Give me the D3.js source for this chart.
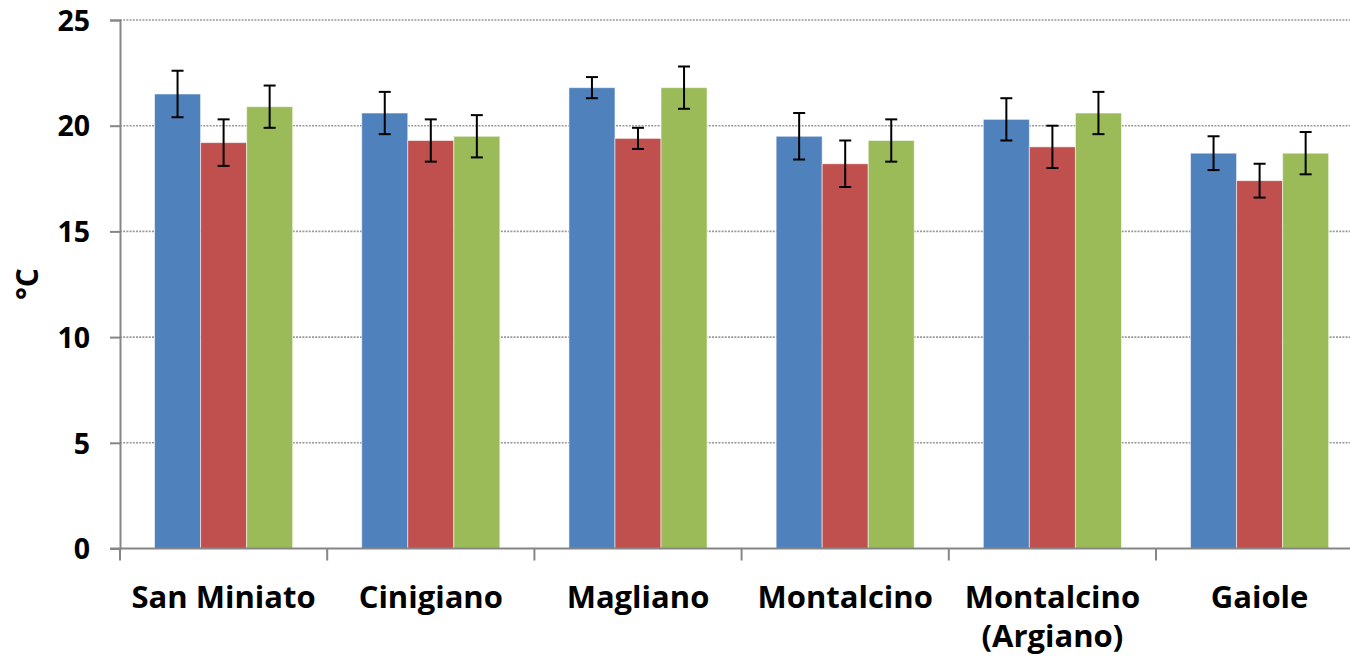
<!DOCTYPE html>
<html>
<head>
<meta charset="utf-8">
<script src="https://cdn.jsdelivr.net/npm/d3@7"></script>
<style>
  html, body { margin: 0; padding: 0; background: #fff; }
  svg { display: block; }
  text { font-family: "Open Sans", Lato, sans-serif; font-weight: 700; fill: #000; }
</style>
</head>
<body>
<svg id="chart" width="1350" height="665"></svg>
<script>
// Sites (category axis)
const sites = ["San Miniato", "Cinigiano", "Magliano", "Montalcino", "Montalcino\n(Argiano)", "Gaiole"];

// Mean temperature per site, one array per series (°C)
const seriesBlue  = [21.5, 20.6, 21.8, 19.5, 20.3, 18.7];
const seriesRed   = [19.2, 19.3, 19.4, 18.2, 19.0, 17.4];
const seriesGreen = [20.9, 19.5, 21.8, 19.3, 20.6, 18.7];

// Error bar half-widths (°C)
const errBlue  = [1.1, 1.0, 0.5, 1.1, 1.0, 0.8];
const errRed   = [1.1, 1.0, 0.5, 1.1, 1.0, 0.8];
const errGreen = [1.0, 1.0, 1.0, 1.0, 1.0, 1.0];

const yTicks = [0, 5, 10, 15, 20, 25];
const yLabel = "°C";

const seriesKeys = ["blue", "red", "green"];
const colors = { blue: "#4F81BD", red: "#C0504D", green: "#9BBB59" };
const values = { blue: seriesBlue, red: seriesRed, green: seriesGreen };
const errors = { blue: errBlue, red: errRed, green: errGreen };

const svg = d3.select("#chart");

const plotLeft = 120, plotBottom = 548.5, plotTop = 20;
const step = 207.2;
const plotRight = plotLeft + step * sites.length;

const y = d3.scaleLinear().domain([0, 25]).range([plotBottom, plotTop]);

const x = d3.scaleBand()
  .domain(sites)
  .range([plotLeft, plotRight])
  .paddingInner(1 / 3)
  .paddingOuter(1 / 6);

const xs = d3.scaleBand().domain(seriesKeys).range([0, x.bandwidth()]).padding(0);

// Dotted horizontal gridlines
svg.append("g")
  .selectAll("line")
  .data(yTicks.filter(t => t > 0))
  .join("line")
  .attr("x1", plotLeft).attr("x2", plotRight)
  .attr("y1", d => y(d)).attr("y2", d => y(d))
  .attr("stroke", "#9a9a9a")
  .attr("stroke-width", 1.6)
  .attr("stroke-dasharray", "2,1.2");

// Bars
const rows = sites.map((s, i) => seriesKeys.map(k => ({ site: s, key: k, v: values[k][i], e: errors[k][i] })));

const groups = svg.append("g")
  .selectAll("g")
  .data(rows)
  .join("g")
  .attr("transform", d => `translate(${x(d[0].site)},0)`);

groups.selectAll("rect")
  .data(d => d)
  .join("rect")
  .attr("x", d => xs(d.key))
  .attr("width", xs.bandwidth())
  .attr("y", d => y(d.v))
  .attr("height", d => y(0) - y(d.v))
  .attr("fill", d => colors[d.key])
  .attr("stroke", "rgba(255,255,255,0.55)")
  .attr("stroke-width", 1);

// Error bars
const eb = groups.selectAll("g.err")
  .data(d => d)
  .join("g")
  .attr("class", "err")
  .attr("transform", d => `translate(${xs(d.key) + xs.bandwidth() / 2},0)`)
  .attr("stroke", "#000")
  .attr("stroke-width", 2);

eb.append("line")
  .attr("x1", 0).attr("x2", 0)
  .attr("y1", d => y(d.v + d.e)).attr("y2", d => y(d.v - d.e));
eb.append("line")
  .attr("x1", -6).attr("x2", 6)
  .attr("y1", d => y(d.v + d.e)).attr("y2", d => y(d.v + d.e));
eb.append("line")
  .attr("x1", -6).attr("x2", 6)
  .attr("y1", d => y(d.v - d.e)).attr("y2", d => y(d.v - d.e));

// Y axis
const yAxis = svg.append("g")
  .attr("transform", `translate(${plotLeft},0)`)
  .call(d3.axisLeft(y).tickValues(yTicks).tickSize(10).tickPadding(20));
yAxis.select(".domain").attr("stroke", "#868686").attr("stroke-width", 2);
yAxis.selectAll(".tick line").attr("stroke", "#868686").attr("stroke-width", 2);
yAxis.selectAll(".tick text")
  .attr("font-size", 28.5)
  .attr("font-family", "'Open Sans', Lato, sans-serif")
  .attr("font-weight", 700)
  .attr("fill", "#000")
  .attr("dy", "0.36em");

// X axis baseline and category-boundary ticks
const xAxis = svg.append("g");
xAxis.append("line")
  .attr("x1", plotLeft - 10).attr("x2", plotRight)
  .attr("y1", plotBottom).attr("y2", plotBottom)
  .attr("stroke", "#868686").attr("stroke-width", 2);
xAxis.selectAll("line.tk")
  .data(d3.range(sites.length + 1))
  .join("line")
  .attr("class", "tk")
  .attr("x1", i => plotLeft + i * step).attr("x2", i => plotLeft + i * step)
  .attr("y1", plotBottom).attr("y2", plotBottom + 12)
  .attr("stroke", "#868686").attr("stroke-width", 2);

// Category labels (may wrap onto two lines)
const lbl = svg.append("g")
  .selectAll("text")
  .data(sites)
  .join("text")
  .attr("x", d => x(d) + x.bandwidth() / 2)
  .attr("y", 608)
  .attr("text-anchor", "middle")
  .attr("font-size", 31);
lbl.selectAll("tspan")
  .data(d => d.split("\n").map((t, i) => ({ t, i, cx: x(d) + x.bandwidth() / 2 })))
  .join("tspan")
  .attr("x", d => d.cx)
  .attr("dy", d => d.i === 0 ? 0 : 39)
  .text(d => d.t);

// Y axis title
svg.append("text")
  .attr("transform", "translate(38,284) rotate(-90)")
  .attr("text-anchor", "middle")
  .attr("font-size", 30)
  .text(yLabel);
</script>
</body>
</html>
